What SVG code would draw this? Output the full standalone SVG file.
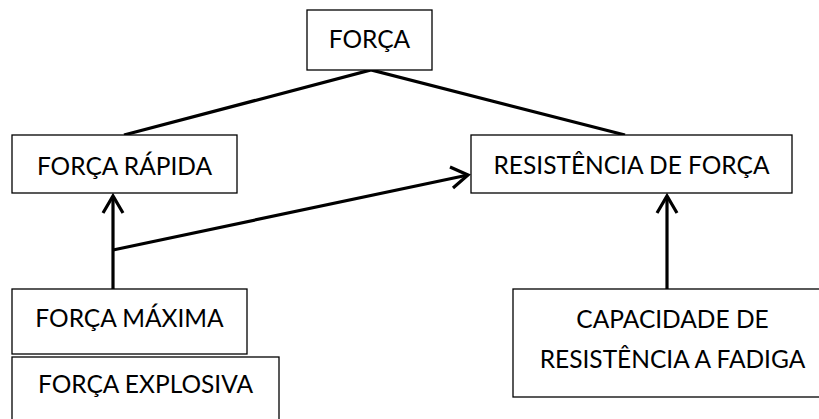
<svg xmlns="http://www.w3.org/2000/svg" width="819" height="419" viewBox="0 0 819 419">
<style>
.box{fill:#fff;stroke:#000;stroke-width:1.3}
.t{font-family:Lato,"Liberation Sans",sans-serif;font-size:24.5px;fill:#000;text-anchor:middle}
.c{fill:none;stroke:#000;stroke-width:3.2;stroke-linecap:butt;stroke-linejoin:miter}
</style>
<rect width="819" height="419" fill="#fff"/>
<g id="connectors">
<path class="c" d="M124,135 L371,70 L625,135"/>
<path class="c" d="M113,289 L113,196"/>
<polyline class="c" points="103,213 113,196 123,213"/>
<path class="c" d="M113,250 L468,175"/>
<polyline class="c" points="450,167 468,175 453,188"/>
<path class="c" d="M667,289 L667,196"/>
<polyline class="c" points="657,213 667,196 677,213"/>
</g>
<g id="forca">
<rect class="box" x="307" y="10" width="125" height="60"/>
<text class="t" x="369.5" y="48">FORÇA</text>
</g>
<g id="forca-rapida">
<rect class="box" x="12" y="135" width="225" height="58"/>
<text class="t" x="124.5" y="175">FORÇA RÁPIDA</text>
</g>
<g id="resistencia-de-forca">
<rect class="box" x="471" y="135" width="321" height="58"/>
<text class="t" x="631.5" y="174">RESISTÊNCIA DE FORÇA</text>
</g>
<g id="forca-maxima">
<rect class="box" x="12" y="289" width="235" height="65"/>
<text class="t" x="129.5" y="327">FORÇA MÁXIMA</text>
</g>
<g id="forca-explosiva">
<rect class="box" x="12" y="357" width="267" height="80"/>
<text class="t" x="145.5" y="393">FORÇA EXPLOSIVA</text>
</g>
<g id="capacidade">
<rect class="box" x="513" y="289" width="319" height="108"/>
<text class="t" x="672.5" y="328">CAPACIDADE DE</text>
<text class="t" x="672.5" y="368">RESISTÊNCIA A FADIGA</text>
</g>
</svg>
